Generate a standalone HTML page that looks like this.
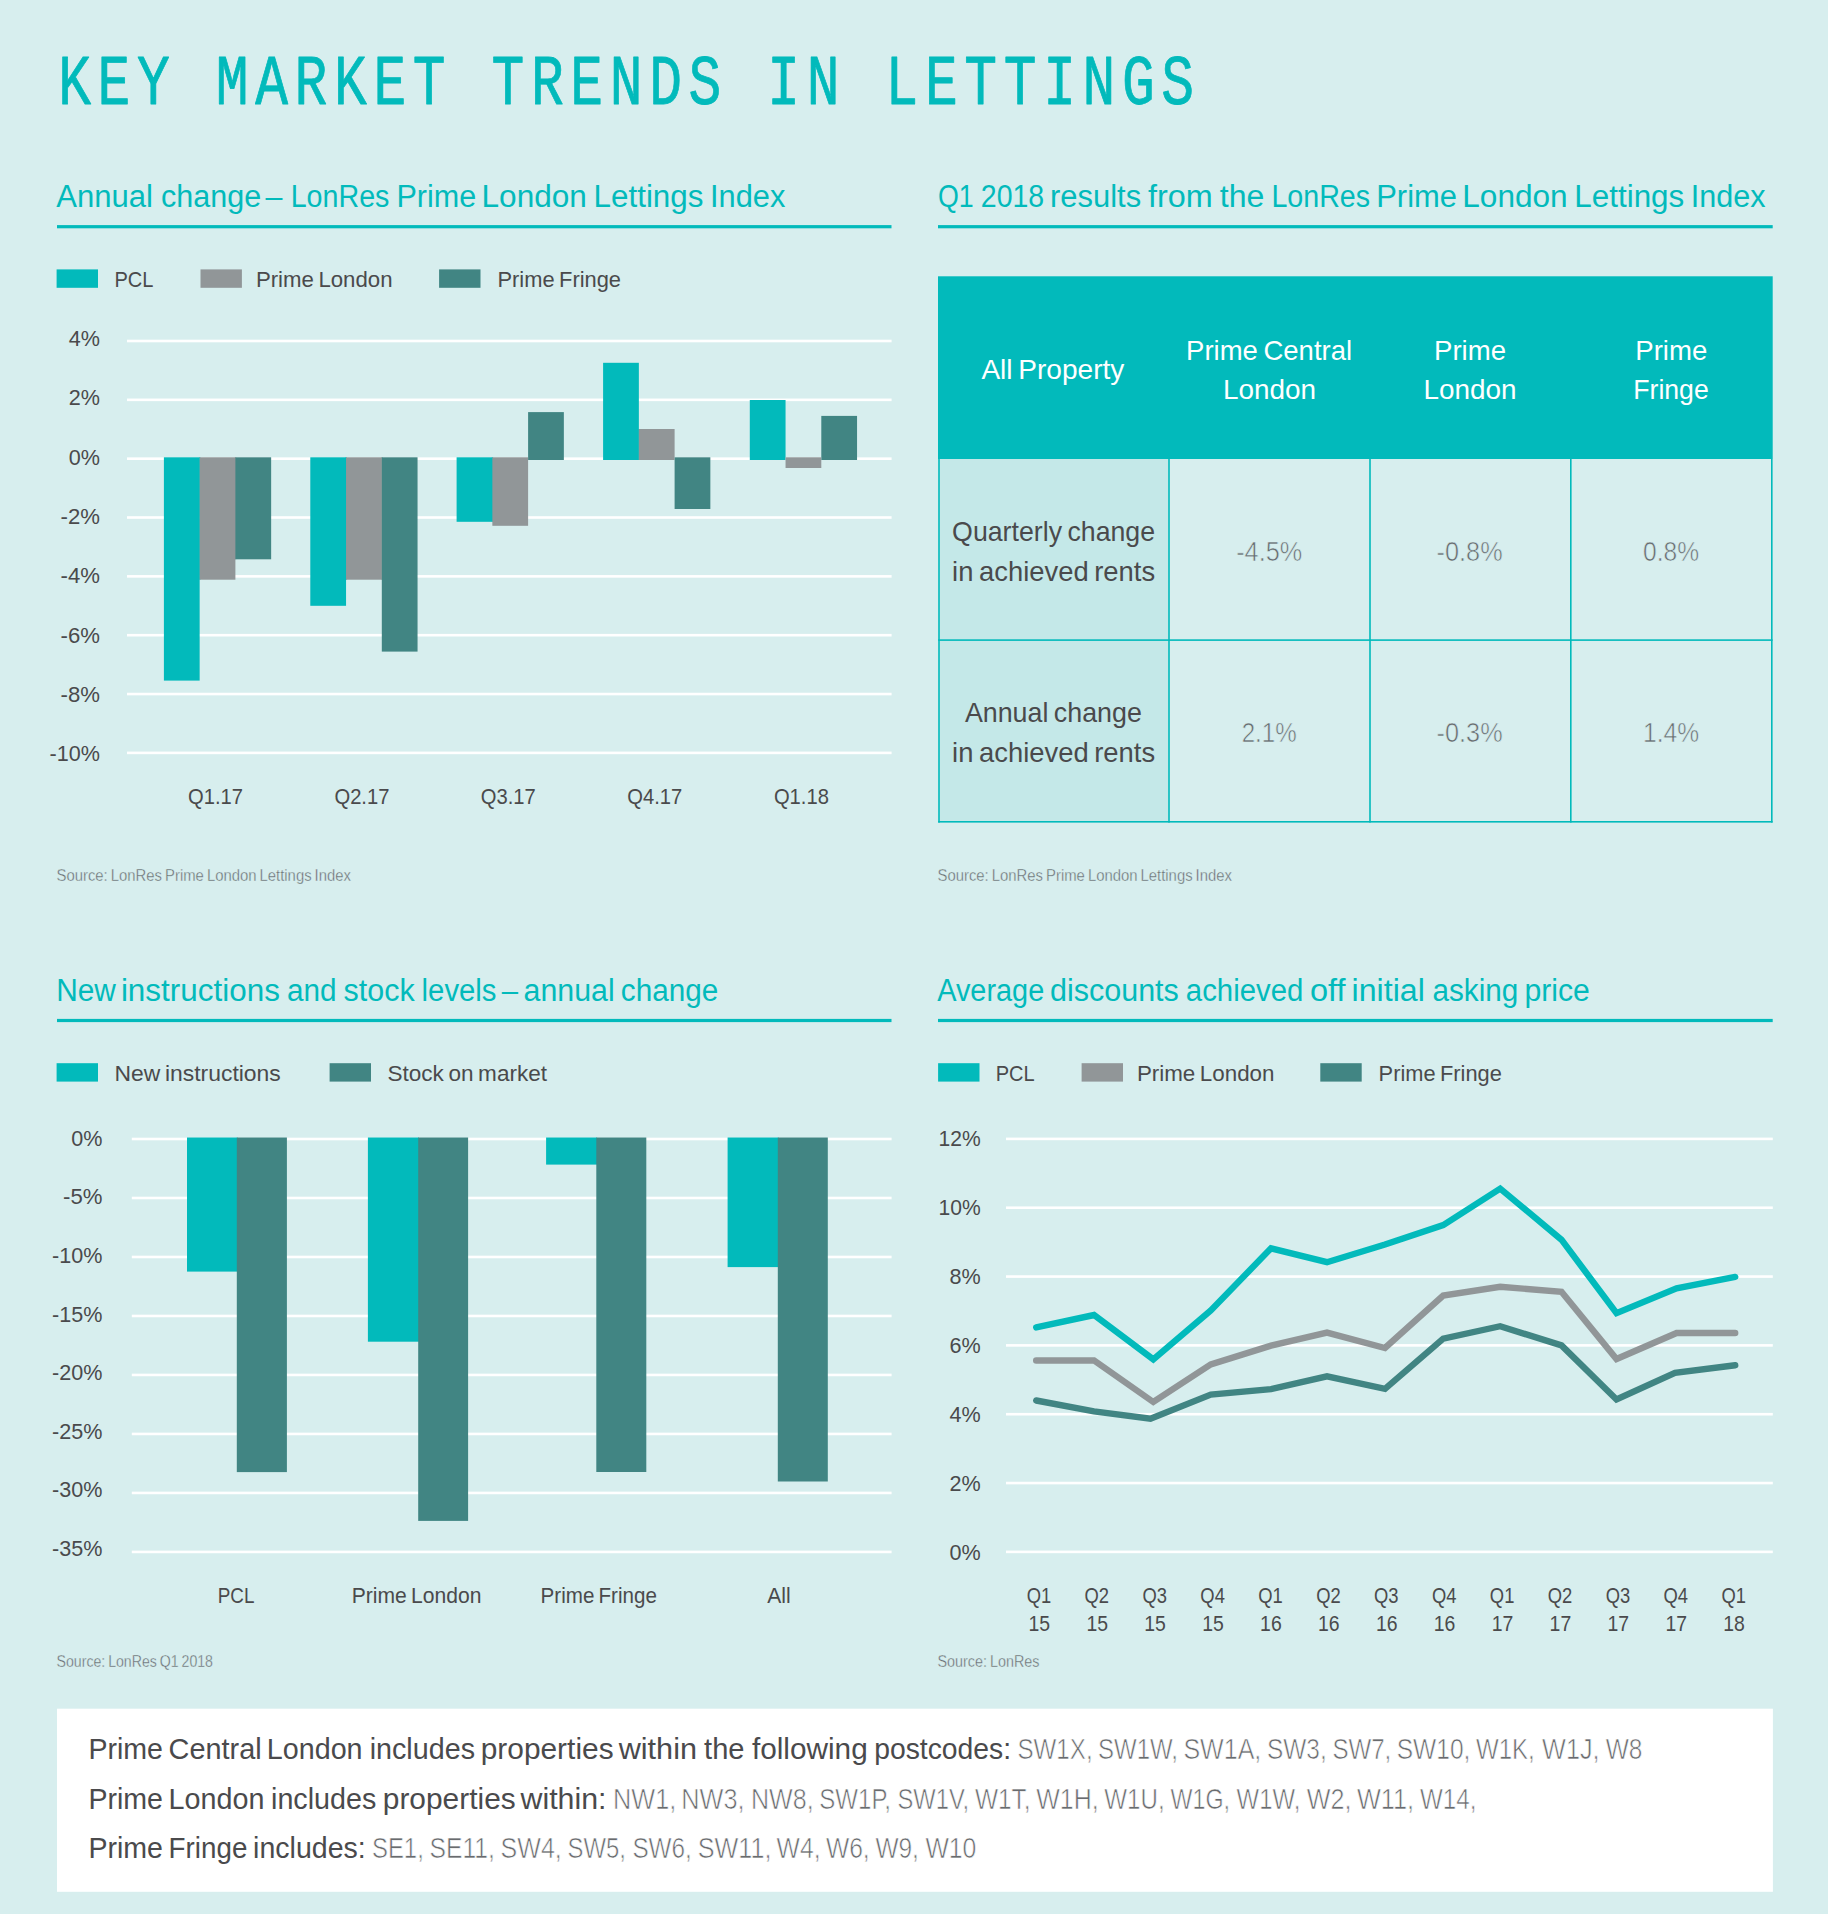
<!DOCTYPE html>
<html lang="en"><head><meta charset="utf-8"><title>Key market trends in lettings</title>
<style>
html,body{margin:0;padding:0;background:#d7eeee;}
body{width:1828px;height:1914px;overflow:hidden;}
svg{display:block;}
</style></head><body>
<svg width="1828" height="1914" viewBox="0 0 1828 1914">
<rect width="1828" height="1914" fill="#d7eeee"/>
<g id="title">
<text transform="translate(58.2,103.8) scale(0.7856,1)" font-family="Liberation Mono, DejaVu Sans Mono, monospace" font-size="69.5" letter-spacing="8.45" fill="#02babb" stroke="#02babb" stroke-width="0.8" stroke-linejoin="round">KEY MARKET TRENDS IN LETTINGS</text>
</g>
<g id="section-headings">
<text y="207.00" font-family="Liberation Sans, sans-serif" font-size="31.0" fill="#02babb"><tspan x="56.20" textLength="96.70" lengthAdjust="spacingAndGlyphs">Annual</tspan> <tspan x="161.10" textLength="100.00" lengthAdjust="spacingAndGlyphs">change</tspan> <tspan x="265.60" textLength="16.90" lengthAdjust="spacingAndGlyphs">–</tspan> <tspan x="290.70" textLength="98.70" lengthAdjust="spacingAndGlyphs">LonRes</tspan> <tspan x="396.40" textLength="79.80" lengthAdjust="spacingAndGlyphs">Prime</tspan> <tspan x="481.50" textLength="105.40" lengthAdjust="spacingAndGlyphs">London</tspan> <tspan x="593.50" textLength="110.00" lengthAdjust="spacingAndGlyphs">Lettings</tspan> <tspan x="710.00" textLength="75.30" lengthAdjust="spacingAndGlyphs">Index</tspan></text>
<rect x="57.00" y="225.10" width="834.50" height="3.20" fill="#02babb"/>
<text y="207.00" font-family="Liberation Sans, sans-serif" font-size="31.0" fill="#02babb"><tspan x="938.00" textLength="35.70" lengthAdjust="spacingAndGlyphs">Q1</tspan> <tspan x="980.80" textLength="63.40" lengthAdjust="spacingAndGlyphs">2018</tspan> <tspan x="1050.00" textLength="91.10" lengthAdjust="spacingAndGlyphs">results</tspan> <tspan x="1148.10" textLength="64.70" lengthAdjust="spacingAndGlyphs">from</tspan> <tspan x="1219.80" textLength="44.60" lengthAdjust="spacingAndGlyphs">the</tspan> <tspan x="1271.40" textLength="98.70" lengthAdjust="spacingAndGlyphs">LonRes</tspan> <tspan x="1376.20" textLength="80.80" lengthAdjust="spacingAndGlyphs">Prime</tspan> <tspan x="1462.30" textLength="105.40" lengthAdjust="spacingAndGlyphs">London</tspan> <tspan x="1574.30" textLength="110.00" lengthAdjust="spacingAndGlyphs">Lettings</tspan> <tspan x="1690.80" textLength="74.70" lengthAdjust="spacingAndGlyphs">Index</tspan></text>
<rect x="938.00" y="225.10" width="834.70" height="3.20" fill="#02babb"/>
<text y="1000.80" font-family="Liberation Sans, sans-serif" font-size="31.0" fill="#02babb"><tspan x="56.20" textLength="59.70" lengthAdjust="spacingAndGlyphs">New</tspan> <tspan x="120.90" textLength="159.00" lengthAdjust="spacingAndGlyphs">instructions</tspan> <tspan x="287.00" textLength="49.60" lengthAdjust="spacingAndGlyphs">and</tspan> <tspan x="343.60" textLength="71.00" lengthAdjust="spacingAndGlyphs">stock</tspan> <tspan x="421.60" textLength="74.90" lengthAdjust="spacingAndGlyphs">levels</tspan> <tspan x="501.80" textLength="16.30" lengthAdjust="spacingAndGlyphs">–</tspan> <tspan x="523.60" textLength="91.10" lengthAdjust="spacingAndGlyphs">annual</tspan> <tspan x="620.80" textLength="97.40" lengthAdjust="spacingAndGlyphs">change</tspan></text>
<rect x="57.00" y="1018.90" width="834.50" height="3.20" fill="#02babb"/>
<text y="1000.80" font-family="Liberation Sans, sans-serif" font-size="31.0" fill="#02babb"><tspan x="937.20" textLength="107.00" lengthAdjust="spacingAndGlyphs">Average</tspan> <tspan x="1050.00" textLength="128.80" lengthAdjust="spacingAndGlyphs">discounts</tspan> <tspan x="1185.80" textLength="117.60" lengthAdjust="spacingAndGlyphs">achieved</tspan> <tspan x="1310.00" textLength="35.60" lengthAdjust="spacingAndGlyphs">off</tspan> <tspan x="1351.60" textLength="73.30" lengthAdjust="spacingAndGlyphs">initial</tspan> <tspan x="1432.50" textLength="85.80" lengthAdjust="spacingAndGlyphs">asking</tspan> <tspan x="1524.40" textLength="65.40" lengthAdjust="spacingAndGlyphs">price</tspan></text>
<rect x="938.00" y="1018.90" width="834.70" height="3.20" fill="#02babb"/>
</g>
<g id="chart-annual-change">
<rect x="127.00" y="339.70" width="764.60" height="2.60" fill="#ffffff"/>
<rect x="127.00" y="398.54" width="764.60" height="2.60" fill="#ffffff"/>
<rect x="127.00" y="457.38" width="764.60" height="2.60" fill="#ffffff"/>
<rect x="127.00" y="516.22" width="764.60" height="2.60" fill="#ffffff"/>
<rect x="127.00" y="575.06" width="764.60" height="2.60" fill="#ffffff"/>
<rect x="127.00" y="633.90" width="764.60" height="2.60" fill="#ffffff"/>
<rect x="127.00" y="692.74" width="764.60" height="2.60" fill="#ffffff"/>
<rect x="127.00" y="751.58" width="764.60" height="2.60" fill="#ffffff"/>
<text x="68.80" y="346.10" font-family="Liberation Sans, sans-serif" font-size="22.4" fill="#4a4a4c" text-anchor="start" word-spacing="-1.68" textLength="31.20" lengthAdjust="spacingAndGlyphs">4%</text>
<text x="68.80" y="405.38" font-family="Liberation Sans, sans-serif" font-size="22.4" fill="#4a4a4c" text-anchor="start" word-spacing="-1.68" textLength="31.20" lengthAdjust="spacingAndGlyphs">2%</text>
<text x="68.80" y="464.66" font-family="Liberation Sans, sans-serif" font-size="22.4" fill="#4a4a4c" text-anchor="start" word-spacing="-1.68" textLength="31.20" lengthAdjust="spacingAndGlyphs">0%</text>
<text x="60.60" y="523.94" font-family="Liberation Sans, sans-serif" font-size="22.4" fill="#4a4a4c" text-anchor="start" word-spacing="-1.68" textLength="39.40" lengthAdjust="spacingAndGlyphs">-2%</text>
<text x="60.60" y="583.22" font-family="Liberation Sans, sans-serif" font-size="22.4" fill="#4a4a4c" text-anchor="start" word-spacing="-1.68" textLength="39.40" lengthAdjust="spacingAndGlyphs">-4%</text>
<text x="60.60" y="642.50" font-family="Liberation Sans, sans-serif" font-size="22.4" fill="#4a4a4c" text-anchor="start" word-spacing="-1.68" textLength="39.40" lengthAdjust="spacingAndGlyphs">-6%</text>
<text x="60.60" y="701.78" font-family="Liberation Sans, sans-serif" font-size="22.4" fill="#4a4a4c" text-anchor="start" word-spacing="-1.68" textLength="39.40" lengthAdjust="spacingAndGlyphs">-8%</text>
<text x="49.60" y="761.06" font-family="Liberation Sans, sans-serif" font-size="22.4" fill="#4a4a4c" text-anchor="start" word-spacing="-1.68" textLength="50.40" lengthAdjust="spacingAndGlyphs">-10%</text>
<rect x="56.60" y="269.40" width="41.40" height="18.40" fill="#02babb"/>
<text x="114.50" y="287.00" font-family="Liberation Sans, sans-serif" font-size="22.4" fill="#4a4a4c" text-anchor="start" word-spacing="-1.68" textLength="39.00" lengthAdjust="spacingAndGlyphs">PCL</text>
<rect x="200.50" y="269.40" width="41.40" height="18.40" fill="#919698"/>
<text x="255.90" y="287.00" font-family="Liberation Sans, sans-serif" font-size="22.4" fill="#4a4a4c" text-anchor="start" word-spacing="-1.68" textLength="136.60" lengthAdjust="spacingAndGlyphs">Prime London</text>
<rect x="439.10" y="269.40" width="41.40" height="18.40" fill="#418583"/>
<text x="497.50" y="287.00" font-family="Liberation Sans, sans-serif" font-size="22.4" fill="#4a4a4c" text-anchor="start" word-spacing="-1.68" textLength="123.50" lengthAdjust="spacingAndGlyphs">Prime Fringe</text>
<rect x="163.90" y="457.30" width="35.75" height="223.30" fill="#02babb"/>
<rect x="199.15" y="457.30" width="1.30" height="122.40" fill="#02babb"/>
<rect x="199.65" y="457.30" width="35.75" height="122.40" fill="#919698"/>
<rect x="234.90" y="457.30" width="1.30" height="102.00" fill="#919698"/>
<rect x="235.40" y="457.30" width="35.75" height="102.00" fill="#418583"/>
<rect x="310.30" y="457.30" width="35.75" height="148.50" fill="#02babb"/>
<rect x="345.55" y="457.30" width="1.30" height="122.40" fill="#02babb"/>
<rect x="346.05" y="457.30" width="35.75" height="122.40" fill="#919698"/>
<rect x="381.30" y="457.30" width="1.30" height="122.40" fill="#919698"/>
<rect x="381.80" y="457.30" width="35.75" height="194.30" fill="#418583"/>
<rect x="456.60" y="457.30" width="35.75" height="64.50" fill="#02babb"/>
<rect x="491.85" y="457.30" width="1.30" height="64.50" fill="#02babb"/>
<rect x="492.35" y="457.30" width="35.75" height="68.50" fill="#919698"/>
<rect x="528.10" y="412.10" width="35.75" height="47.90" fill="#418583"/>
<rect x="603.10" y="362.80" width="35.75" height="97.20" fill="#02babb"/>
<rect x="638.35" y="429.00" width="1.30" height="31.00" fill="#02babb"/>
<rect x="638.85" y="429.00" width="35.75" height="31.00" fill="#919698"/>
<rect x="674.60" y="457.30" width="35.75" height="51.70" fill="#418583"/>
<rect x="749.80" y="400.00" width="35.75" height="60.00" fill="#02babb"/>
<rect x="785.55" y="457.30" width="35.75" height="10.70" fill="#919698"/>
<rect x="821.30" y="415.90" width="35.75" height="44.10" fill="#418583"/>
<text x="188.03" y="803.90" font-family="Liberation Sans, sans-serif" font-size="22.4" fill="#4a4a4c" text-anchor="start" word-spacing="-1.68" textLength="55.00" lengthAdjust="spacingAndGlyphs">Q1.17</text>
<text x="334.43" y="803.90" font-family="Liberation Sans, sans-serif" font-size="22.4" fill="#4a4a4c" text-anchor="start" word-spacing="-1.68" textLength="55.00" lengthAdjust="spacingAndGlyphs">Q2.17</text>
<text x="480.73" y="803.90" font-family="Liberation Sans, sans-serif" font-size="22.4" fill="#4a4a4c" text-anchor="start" word-spacing="-1.68" textLength="55.00" lengthAdjust="spacingAndGlyphs">Q3.17</text>
<text x="627.23" y="803.90" font-family="Liberation Sans, sans-serif" font-size="22.4" fill="#4a4a4c" text-anchor="start" word-spacing="-1.68" textLength="55.00" lengthAdjust="spacingAndGlyphs">Q4.17</text>
<text x="773.92" y="803.90" font-family="Liberation Sans, sans-serif" font-size="22.4" fill="#4a4a4c" text-anchor="start" word-spacing="-1.68" textLength="55.00" lengthAdjust="spacingAndGlyphs">Q1.18</text>
<text x="56.50" y="881.40" font-family="Liberation Sans, sans-serif" font-size="16.9" fill="#696b6e" text-anchor="start" word-spacing="-1.27" textLength="294.50" lengthAdjust="spacingAndGlyphs" stroke="#d7eeee" stroke-width="0.37">Source: LonRes Prime London Lettings Index</text>
</g>
<g id="table-q1-2018-results">
<rect x="938.00" y="276.30" width="834.70" height="182.70" fill="#02babb"/>
<rect x="939.00" y="459.00" width="230.00" height="362.70" fill="#c4e8e8"/>
<rect x="938.20" y="459.00" width="1.60" height="363.60" fill="#02babb"/>
<rect x="1168.20" y="459.00" width="1.60" height="363.60" fill="#02babb"/>
<rect x="1369.20" y="459.00" width="1.60" height="363.60" fill="#02babb"/>
<rect x="1570.00" y="459.00" width="1.60" height="363.60" fill="#02babb"/>
<rect x="1771.00" y="459.00" width="1.60" height="363.60" fill="#02babb"/>
<rect x="938.20" y="639.30" width="834.40" height="1.60" fill="#02babb"/>
<rect x="938.20" y="821.00" width="834.40" height="1.60" fill="#02babb"/>
<text x="981.40" y="379.40" font-family="Liberation Sans, sans-serif" font-size="27.8" fill="#ffffff" text-anchor="start" word-spacing="-2.08" textLength="143.00" lengthAdjust="spacingAndGlyphs">All Property</text>
<text x="1186.10" y="360.00" font-family="Liberation Sans, sans-serif" font-size="27.8" fill="#ffffff" text-anchor="start" word-spacing="-2.08" textLength="166.00" lengthAdjust="spacingAndGlyphs">Prime Central</text>
<text x="1223.00" y="399.00" font-family="Liberation Sans, sans-serif" font-size="27.8" fill="#ffffff" text-anchor="start" word-spacing="-2.08" textLength="93.00" lengthAdjust="spacingAndGlyphs">London</text>
<text x="1434.00" y="360.00" font-family="Liberation Sans, sans-serif" font-size="27.8" fill="#ffffff" text-anchor="start" word-spacing="-2.08" textLength="72.00" lengthAdjust="spacingAndGlyphs">Prime</text>
<text x="1423.50" y="399.00" font-family="Liberation Sans, sans-serif" font-size="27.8" fill="#ffffff" text-anchor="start" word-spacing="-2.08" textLength="93.00" lengthAdjust="spacingAndGlyphs">London</text>
<text x="1635.30" y="360.00" font-family="Liberation Sans, sans-serif" font-size="27.8" fill="#ffffff" text-anchor="start" word-spacing="-2.08" textLength="72.00" lengthAdjust="spacingAndGlyphs">Prime</text>
<text x="1633.25" y="399.00" font-family="Liberation Sans, sans-serif" font-size="27.8" fill="#ffffff" text-anchor="start" word-spacing="-2.08" textLength="75.50" lengthAdjust="spacingAndGlyphs">Fringe</text>
<text x="952.10" y="540.70" font-family="Liberation Sans, sans-serif" font-size="27.8" fill="#4a4a4c" text-anchor="start" word-spacing="-2.08" textLength="203.00" lengthAdjust="spacingAndGlyphs">Quarterly change</text>
<text x="952.10" y="580.90" font-family="Liberation Sans, sans-serif" font-size="27.8" fill="#4a4a4c" text-anchor="start" word-spacing="-2.08" textLength="203.00" lengthAdjust="spacingAndGlyphs">in achieved rents</text>
<text x="964.90" y="722.30" font-family="Liberation Sans, sans-serif" font-size="27.8" fill="#4a4a4c" text-anchor="start" word-spacing="-2.08" textLength="177.00" lengthAdjust="spacingAndGlyphs">Annual change</text>
<text x="952.10" y="761.60" font-family="Liberation Sans, sans-serif" font-size="27.8" fill="#4a4a4c" text-anchor="start" word-spacing="-2.08" textLength="203.00" lengthAdjust="spacingAndGlyphs">in achieved rents</text>
<text x="1236.20" y="561.30" font-family="Liberation Sans, sans-serif" font-size="28.2" fill="#696b6e" text-anchor="start" word-spacing="-2.11" textLength="66.00" lengthAdjust="spacingAndGlyphs" stroke="#d7eeee" stroke-width="0.62">-4.5%</text>
<text x="1241.70" y="742.00" font-family="Liberation Sans, sans-serif" font-size="28.2" fill="#696b6e" text-anchor="start" word-spacing="-2.11" textLength="55.00" lengthAdjust="spacingAndGlyphs" stroke="#d7eeee" stroke-width="0.62">2.1%</text>
<text x="1436.60" y="561.30" font-family="Liberation Sans, sans-serif" font-size="28.2" fill="#696b6e" text-anchor="start" word-spacing="-2.11" textLength="66.00" lengthAdjust="spacingAndGlyphs" stroke="#d7eeee" stroke-width="0.62">-0.8%</text>
<text x="1436.60" y="742.00" font-family="Liberation Sans, sans-serif" font-size="28.2" fill="#696b6e" text-anchor="start" word-spacing="-2.11" textLength="66.00" lengthAdjust="spacingAndGlyphs" stroke="#d7eeee" stroke-width="0.62">-0.3%</text>
<text x="1643.00" y="561.30" font-family="Liberation Sans, sans-serif" font-size="28.2" fill="#696b6e" text-anchor="start" word-spacing="-2.11" textLength="56.00" lengthAdjust="spacingAndGlyphs" stroke="#d7eeee" stroke-width="0.62">0.8%</text>
<text x="1643.00" y="742.00" font-family="Liberation Sans, sans-serif" font-size="28.2" fill="#696b6e" text-anchor="start" word-spacing="-2.11" textLength="56.00" lengthAdjust="spacingAndGlyphs" stroke="#d7eeee" stroke-width="0.62">1.4%</text>
<text x="937.50" y="881.40" font-family="Liberation Sans, sans-serif" font-size="16.9" fill="#696b6e" text-anchor="start" word-spacing="-1.27" textLength="294.50" lengthAdjust="spacingAndGlyphs" stroke="#d7eeee" stroke-width="0.37">Source: LonRes Prime London Lettings Index</text>
</g>
<g id="chart-instructions-stock">
<rect x="131.80" y="1137.70" width="759.80" height="2.60" fill="#ffffff"/>
<rect x="131.80" y="1196.69" width="759.80" height="2.60" fill="#ffffff"/>
<rect x="131.80" y="1255.68" width="759.80" height="2.60" fill="#ffffff"/>
<rect x="131.80" y="1314.67" width="759.80" height="2.60" fill="#ffffff"/>
<rect x="131.80" y="1373.66" width="759.80" height="2.60" fill="#ffffff"/>
<rect x="131.80" y="1432.65" width="759.80" height="2.60" fill="#ffffff"/>
<rect x="131.80" y="1491.64" width="759.80" height="2.60" fill="#ffffff"/>
<rect x="131.80" y="1550.63" width="759.80" height="2.60" fill="#ffffff"/>
<text x="71.30" y="1145.90" font-family="Liberation Sans, sans-serif" font-size="22.4" fill="#4a4a4c" text-anchor="start" word-spacing="-1.68" textLength="31.20" lengthAdjust="spacingAndGlyphs">0%</text>
<text x="63.10" y="1204.47" font-family="Liberation Sans, sans-serif" font-size="22.4" fill="#4a4a4c" text-anchor="start" word-spacing="-1.68" textLength="39.40" lengthAdjust="spacingAndGlyphs">-5%</text>
<text x="52.10" y="1263.04" font-family="Liberation Sans, sans-serif" font-size="22.4" fill="#4a4a4c" text-anchor="start" word-spacing="-1.68" textLength="50.40" lengthAdjust="spacingAndGlyphs">-10%</text>
<text x="52.10" y="1321.61" font-family="Liberation Sans, sans-serif" font-size="22.4" fill="#4a4a4c" text-anchor="start" word-spacing="-1.68" textLength="50.40" lengthAdjust="spacingAndGlyphs">-15%</text>
<text x="52.10" y="1380.18" font-family="Liberation Sans, sans-serif" font-size="22.4" fill="#4a4a4c" text-anchor="start" word-spacing="-1.68" textLength="50.40" lengthAdjust="spacingAndGlyphs">-20%</text>
<text x="52.10" y="1438.75" font-family="Liberation Sans, sans-serif" font-size="22.4" fill="#4a4a4c" text-anchor="start" word-spacing="-1.68" textLength="50.40" lengthAdjust="spacingAndGlyphs">-25%</text>
<text x="52.10" y="1497.32" font-family="Liberation Sans, sans-serif" font-size="22.4" fill="#4a4a4c" text-anchor="start" word-spacing="-1.68" textLength="50.40" lengthAdjust="spacingAndGlyphs">-30%</text>
<text x="52.10" y="1555.89" font-family="Liberation Sans, sans-serif" font-size="22.4" fill="#4a4a4c" text-anchor="start" word-spacing="-1.68" textLength="50.40" lengthAdjust="spacingAndGlyphs">-35%</text>
<rect x="56.60" y="1063.20" width="41.40" height="18.40" fill="#02babb"/>
<text x="114.50" y="1080.80" font-family="Liberation Sans, sans-serif" font-size="22.4" fill="#4a4a4c" text-anchor="start" word-spacing="-1.68" textLength="166.30" lengthAdjust="spacingAndGlyphs">New instructions</text>
<rect x="329.60" y="1063.20" width="41.40" height="18.40" fill="#418583"/>
<text x="387.50" y="1080.80" font-family="Liberation Sans, sans-serif" font-size="22.4" fill="#4a4a4c" text-anchor="start" word-spacing="-1.68" textLength="159.50" lengthAdjust="spacingAndGlyphs">Stock on market</text>
<rect x="187.00" y="1137.50" width="50.60" height="134.10" fill="#02babb"/>
<rect x="236.80" y="1137.50" width="50.10" height="334.60" fill="#418583"/>
<rect x="367.90" y="1137.50" width="51.10" height="204.20" fill="#02babb"/>
<rect x="418.20" y="1137.50" width="49.90" height="383.40" fill="#418583"/>
<rect x="546.10" y="1137.50" width="51.00" height="27.10" fill="#02babb"/>
<rect x="596.30" y="1137.50" width="50.00" height="334.50" fill="#418583"/>
<rect x="727.60" y="1137.50" width="51.00" height="129.60" fill="#02babb"/>
<rect x="777.80" y="1137.50" width="50.00" height="344.00" fill="#418583"/>
<text x="217.70" y="1603.20" font-family="Liberation Sans, sans-serif" font-size="22.4" fill="#4a4a4c" text-anchor="start" word-spacing="-1.68" textLength="36.70" lengthAdjust="spacingAndGlyphs">PCL</text>
<text x="351.80" y="1603.20" font-family="Liberation Sans, sans-serif" font-size="22.4" fill="#4a4a4c" text-anchor="start" word-spacing="-1.68" textLength="129.60" lengthAdjust="spacingAndGlyphs">Prime London</text>
<text x="540.60" y="1603.20" font-family="Liberation Sans, sans-serif" font-size="22.4" fill="#4a4a4c" text-anchor="start" word-spacing="-1.68" textLength="116.30" lengthAdjust="spacingAndGlyphs">Prime Fringe</text>
<text x="767.20" y="1603.20" font-family="Liberation Sans, sans-serif" font-size="22.4" fill="#4a4a4c" text-anchor="start" word-spacing="-1.68" textLength="23.40" lengthAdjust="spacingAndGlyphs">All</text>
<text x="56.50" y="1667.30" font-family="Liberation Sans, sans-serif" font-size="16.9" fill="#696b6e" text-anchor="start" word-spacing="-1.27" textLength="156.50" lengthAdjust="spacingAndGlyphs" stroke="#d7eeee" stroke-width="0.37">Source: LonRes Q1 2018</text>
</g>
<g id="chart-average-discounts">
<rect x="1006.00" y="1137.60" width="766.80" height="2.60" fill="#ffffff"/>
<rect x="1006.00" y="1206.43" width="766.80" height="2.60" fill="#ffffff"/>
<rect x="1006.00" y="1275.26" width="766.80" height="2.60" fill="#ffffff"/>
<rect x="1006.00" y="1344.09" width="766.80" height="2.60" fill="#ffffff"/>
<rect x="1006.00" y="1412.92" width="766.80" height="2.60" fill="#ffffff"/>
<rect x="1006.00" y="1481.75" width="766.80" height="2.60" fill="#ffffff"/>
<rect x="1006.00" y="1550.58" width="766.80" height="2.60" fill="#ffffff"/>
<text x="938.50" y="1145.70" font-family="Liberation Sans, sans-serif" font-size="22.4" fill="#4a4a4c" text-anchor="start" word-spacing="-1.68" textLength="42.20" lengthAdjust="spacingAndGlyphs">12%</text>
<text x="938.50" y="1214.80" font-family="Liberation Sans, sans-serif" font-size="22.4" fill="#4a4a4c" text-anchor="start" word-spacing="-1.68" textLength="42.20" lengthAdjust="spacingAndGlyphs">10%</text>
<text x="949.50" y="1283.90" font-family="Liberation Sans, sans-serif" font-size="22.4" fill="#4a4a4c" text-anchor="start" word-spacing="-1.68" textLength="31.20" lengthAdjust="spacingAndGlyphs">8%</text>
<text x="949.50" y="1353.00" font-family="Liberation Sans, sans-serif" font-size="22.4" fill="#4a4a4c" text-anchor="start" word-spacing="-1.68" textLength="31.20" lengthAdjust="spacingAndGlyphs">6%</text>
<text x="949.50" y="1422.10" font-family="Liberation Sans, sans-serif" font-size="22.4" fill="#4a4a4c" text-anchor="start" word-spacing="-1.68" textLength="31.20" lengthAdjust="spacingAndGlyphs">4%</text>
<text x="949.50" y="1491.20" font-family="Liberation Sans, sans-serif" font-size="22.4" fill="#4a4a4c" text-anchor="start" word-spacing="-1.68" textLength="31.20" lengthAdjust="spacingAndGlyphs">2%</text>
<text x="949.50" y="1560.30" font-family="Liberation Sans, sans-serif" font-size="22.4" fill="#4a4a4c" text-anchor="start" word-spacing="-1.68" textLength="31.20" lengthAdjust="spacingAndGlyphs">0%</text>
<rect x="938.10" y="1063.20" width="41.40" height="18.40" fill="#02babb"/>
<text x="995.70" y="1080.80" font-family="Liberation Sans, sans-serif" font-size="22.4" fill="#4a4a4c" text-anchor="start" word-spacing="-1.68" textLength="39.00" lengthAdjust="spacingAndGlyphs">PCL</text>
<rect x="1081.60" y="1063.20" width="41.40" height="18.40" fill="#919698"/>
<text x="1136.90" y="1080.80" font-family="Liberation Sans, sans-serif" font-size="22.4" fill="#4a4a4c" text-anchor="start" word-spacing="-1.68" textLength="137.60" lengthAdjust="spacingAndGlyphs">Prime London</text>
<rect x="1320.30" y="1063.20" width="41.40" height="18.40" fill="#418583"/>
<text x="1378.60" y="1080.80" font-family="Liberation Sans, sans-serif" font-size="22.4" fill="#4a4a4c" text-anchor="start" word-spacing="-1.68" textLength="123.30" lengthAdjust="spacingAndGlyphs">Prime Fringe</text>
<polyline points="1036.2,1400.5 1094.0,1411.3 1150.5,1418.6 1210.8,1394.6 1271.0,1389.2 1327.0,1376.3 1385.0,1388.8 1443.2,1338.6 1500.2,1326.2 1561.5,1345.4 1616.5,1399.5 1675.0,1372.8 1735.2,1365.3" fill="none" stroke="#418583" stroke-width="6.4" stroke-linejoin="miter" stroke-miterlimit="10" stroke-linecap="round"/>
<polyline points="1036.2,1360.5 1094.0,1360.5 1153.3,1402.0 1210.8,1364.4 1271.0,1345.6 1327.0,1332.6 1385.0,1348.0 1443.2,1295.5 1500.2,1286.8 1561.5,1291.8 1616.5,1359.0 1676.6,1333.0 1735.2,1333.0" fill="none" stroke="#919698" stroke-width="6.4" stroke-linejoin="miter" stroke-miterlimit="10" stroke-linecap="round"/>
<polyline points="1036.2,1327.4 1094.0,1315.0 1153.3,1359.4 1210.8,1310.5 1271.0,1248.3 1327.0,1262.2 1385.0,1244.5 1443.2,1225.1 1500.2,1188.6 1561.5,1239.7 1616.5,1313.2 1676.6,1288.3 1735.2,1276.9" fill="none" stroke="#02babb" stroke-width="6.4" stroke-linejoin="miter" stroke-miterlimit="10" stroke-linecap="round"/>
<text x="1026.65" y="1603.20" font-family="Liberation Sans, sans-serif" font-size="22.4" fill="#4a4a4c" text-anchor="start" word-spacing="-1.68" textLength="24.50" lengthAdjust="spacingAndGlyphs">Q1</text>
<text x="1028.50" y="1630.90" font-family="Liberation Sans, sans-serif" font-size="22.4" fill="#4a4a4c" text-anchor="start" word-spacing="-1.68" textLength="21.60" lengthAdjust="spacingAndGlyphs">15</text>
<text x="1084.55" y="1603.20" font-family="Liberation Sans, sans-serif" font-size="22.4" fill="#4a4a4c" text-anchor="start" word-spacing="-1.68" textLength="24.50" lengthAdjust="spacingAndGlyphs">Q2</text>
<text x="1086.40" y="1630.90" font-family="Liberation Sans, sans-serif" font-size="22.4" fill="#4a4a4c" text-anchor="start" word-spacing="-1.68" textLength="21.60" lengthAdjust="spacingAndGlyphs">15</text>
<text x="1142.45" y="1603.20" font-family="Liberation Sans, sans-serif" font-size="22.4" fill="#4a4a4c" text-anchor="start" word-spacing="-1.68" textLength="24.50" lengthAdjust="spacingAndGlyphs">Q3</text>
<text x="1144.30" y="1630.90" font-family="Liberation Sans, sans-serif" font-size="22.4" fill="#4a4a4c" text-anchor="start" word-spacing="-1.68" textLength="21.60" lengthAdjust="spacingAndGlyphs">15</text>
<text x="1200.35" y="1603.20" font-family="Liberation Sans, sans-serif" font-size="22.4" fill="#4a4a4c" text-anchor="start" word-spacing="-1.68" textLength="24.50" lengthAdjust="spacingAndGlyphs">Q4</text>
<text x="1202.20" y="1630.90" font-family="Liberation Sans, sans-serif" font-size="22.4" fill="#4a4a4c" text-anchor="start" word-spacing="-1.68" textLength="21.60" lengthAdjust="spacingAndGlyphs">15</text>
<text x="1258.25" y="1603.20" font-family="Liberation Sans, sans-serif" font-size="22.4" fill="#4a4a4c" text-anchor="start" word-spacing="-1.68" textLength="24.50" lengthAdjust="spacingAndGlyphs">Q1</text>
<text x="1260.10" y="1630.90" font-family="Liberation Sans, sans-serif" font-size="22.4" fill="#4a4a4c" text-anchor="start" word-spacing="-1.68" textLength="21.60" lengthAdjust="spacingAndGlyphs">16</text>
<text x="1316.15" y="1603.20" font-family="Liberation Sans, sans-serif" font-size="22.4" fill="#4a4a4c" text-anchor="start" word-spacing="-1.68" textLength="24.50" lengthAdjust="spacingAndGlyphs">Q2</text>
<text x="1318.00" y="1630.90" font-family="Liberation Sans, sans-serif" font-size="22.4" fill="#4a4a4c" text-anchor="start" word-spacing="-1.68" textLength="21.60" lengthAdjust="spacingAndGlyphs">16</text>
<text x="1374.05" y="1603.20" font-family="Liberation Sans, sans-serif" font-size="22.4" fill="#4a4a4c" text-anchor="start" word-spacing="-1.68" textLength="24.50" lengthAdjust="spacingAndGlyphs">Q3</text>
<text x="1375.90" y="1630.90" font-family="Liberation Sans, sans-serif" font-size="22.4" fill="#4a4a4c" text-anchor="start" word-spacing="-1.68" textLength="21.60" lengthAdjust="spacingAndGlyphs">16</text>
<text x="1431.95" y="1603.20" font-family="Liberation Sans, sans-serif" font-size="22.4" fill="#4a4a4c" text-anchor="start" word-spacing="-1.68" textLength="24.50" lengthAdjust="spacingAndGlyphs">Q4</text>
<text x="1433.80" y="1630.90" font-family="Liberation Sans, sans-serif" font-size="22.4" fill="#4a4a4c" text-anchor="start" word-spacing="-1.68" textLength="21.60" lengthAdjust="spacingAndGlyphs">16</text>
<text x="1489.85" y="1603.20" font-family="Liberation Sans, sans-serif" font-size="22.4" fill="#4a4a4c" text-anchor="start" word-spacing="-1.68" textLength="24.50" lengthAdjust="spacingAndGlyphs">Q1</text>
<text x="1491.70" y="1630.90" font-family="Liberation Sans, sans-serif" font-size="22.4" fill="#4a4a4c" text-anchor="start" word-spacing="-1.68" textLength="21.60" lengthAdjust="spacingAndGlyphs">17</text>
<text x="1547.75" y="1603.20" font-family="Liberation Sans, sans-serif" font-size="22.4" fill="#4a4a4c" text-anchor="start" word-spacing="-1.68" textLength="24.50" lengthAdjust="spacingAndGlyphs">Q2</text>
<text x="1549.60" y="1630.90" font-family="Liberation Sans, sans-serif" font-size="22.4" fill="#4a4a4c" text-anchor="start" word-spacing="-1.68" textLength="21.60" lengthAdjust="spacingAndGlyphs">17</text>
<text x="1605.65" y="1603.20" font-family="Liberation Sans, sans-serif" font-size="22.4" fill="#4a4a4c" text-anchor="start" word-spacing="-1.68" textLength="24.50" lengthAdjust="spacingAndGlyphs">Q3</text>
<text x="1607.50" y="1630.90" font-family="Liberation Sans, sans-serif" font-size="22.4" fill="#4a4a4c" text-anchor="start" word-spacing="-1.68" textLength="21.60" lengthAdjust="spacingAndGlyphs">17</text>
<text x="1663.55" y="1603.20" font-family="Liberation Sans, sans-serif" font-size="22.4" fill="#4a4a4c" text-anchor="start" word-spacing="-1.68" textLength="24.50" lengthAdjust="spacingAndGlyphs">Q4</text>
<text x="1665.40" y="1630.90" font-family="Liberation Sans, sans-serif" font-size="22.4" fill="#4a4a4c" text-anchor="start" word-spacing="-1.68" textLength="21.60" lengthAdjust="spacingAndGlyphs">17</text>
<text x="1721.45" y="1603.20" font-family="Liberation Sans, sans-serif" font-size="22.4" fill="#4a4a4c" text-anchor="start" word-spacing="-1.68" textLength="24.50" lengthAdjust="spacingAndGlyphs">Q1</text>
<text x="1723.30" y="1630.90" font-family="Liberation Sans, sans-serif" font-size="22.4" fill="#4a4a4c" text-anchor="start" word-spacing="-1.68" textLength="21.60" lengthAdjust="spacingAndGlyphs">18</text>
<text x="937.50" y="1666.90" font-family="Liberation Sans, sans-serif" font-size="16.9" fill="#696b6e" text-anchor="start" word-spacing="-1.27" textLength="102.00" lengthAdjust="spacingAndGlyphs" stroke="#d7eeee" stroke-width="0.37">Source: LonRes</text>
</g>
<g id="postcode-definitions">
<rect x="57.00" y="1708.70" width="1715.90" height="183.10" fill="#ffffff"/>
<text y="1758.90" font-family="Liberation Sans, sans-serif" font-size="28.6" fill="#4a4a4c"><tspan x="88.40" textLength="74.50" lengthAdjust="spacingAndGlyphs">Prime</tspan> <tspan x="168.60" textLength="93.10" lengthAdjust="spacingAndGlyphs">Central</tspan> <tspan x="266.80" textLength="95.80" lengthAdjust="spacingAndGlyphs">London</tspan> <tspan x="369.70" textLength="105.30" lengthAdjust="spacingAndGlyphs">includes</tspan> <tspan x="480.70" textLength="132.90" lengthAdjust="spacingAndGlyphs">properties</tspan> <tspan x="618.70" textLength="78.30" lengthAdjust="spacingAndGlyphs">within</tspan> <tspan x="704.10" textLength="40.40" lengthAdjust="spacingAndGlyphs">the</tspan> <tspan x="751.90" textLength="115.80" lengthAdjust="spacingAndGlyphs">following</tspan> <tspan x="874.20" textLength="136.90" lengthAdjust="spacingAndGlyphs">postcodes:</tspan></text>
<text y="1758.90" font-family="Liberation Sans, sans-serif" font-size="28.6" fill="#696b6e" stroke="#ffffff" stroke-width="0.63"><tspan x="1017.50" textLength="75.10" lengthAdjust="spacingAndGlyphs">SW1X,</tspan> <tspan x="1098.00" textLength="80.00" lengthAdjust="spacingAndGlyphs">SW1W,</tspan> <tspan x="1183.40" textLength="77.90" lengthAdjust="spacingAndGlyphs">SW1A,</tspan> <tspan x="1267.00" textLength="59.70" lengthAdjust="spacingAndGlyphs">SW3,</tspan> <tspan x="1332.40" textLength="58.90" lengthAdjust="spacingAndGlyphs">SW7,</tspan> <tspan x="1396.70" textLength="73.70" lengthAdjust="spacingAndGlyphs">SW10,</tspan> <tspan x="1476.00" textLength="58.80" lengthAdjust="spacingAndGlyphs">W1K,</tspan> <tspan x="1542.10" textLength="57.50" lengthAdjust="spacingAndGlyphs">W1J,</tspan> <tspan x="1605.70" textLength="36.70" lengthAdjust="spacingAndGlyphs">W8</tspan></text>
<text y="1809.10" font-family="Liberation Sans, sans-serif" font-size="28.6" fill="#4a4a4c"><tspan x="88.40" textLength="74.50" lengthAdjust="spacingAndGlyphs">Prime</tspan> <tspan x="168.60" textLength="95.90" lengthAdjust="spacingAndGlyphs">London</tspan> <tspan x="271.00" textLength="105.30" lengthAdjust="spacingAndGlyphs">includes</tspan> <tspan x="382.80" textLength="132.90" lengthAdjust="spacingAndGlyphs">properties</tspan> <tspan x="520.50" textLength="86.00" lengthAdjust="spacingAndGlyphs">within:</tspan></text>
<text y="1809.10" font-family="Liberation Sans, sans-serif" font-size="28.6" fill="#696b6e" stroke="#ffffff" stroke-width="0.63"><tspan x="613.10" textLength="63.10" lengthAdjust="spacingAndGlyphs">NW1,</tspan> <tspan x="681.30" textLength="63.20" lengthAdjust="spacingAndGlyphs">NW3,</tspan> <tspan x="751.00" textLength="62.60" lengthAdjust="spacingAndGlyphs">NW8,</tspan> <tspan x="819.30" textLength="71.70" lengthAdjust="spacingAndGlyphs">SW1P,</tspan> <tspan x="897.50" textLength="71.70" lengthAdjust="spacingAndGlyphs">SW1V,</tspan> <tspan x="974.90" textLength="55.70" lengthAdjust="spacingAndGlyphs">W1T,</tspan> <tspan x="1036.20" textLength="62.40" lengthAdjust="spacingAndGlyphs">W1H,</tspan> <tspan x="1104.30" textLength="60.30" lengthAdjust="spacingAndGlyphs">W1U,</tspan> <tspan x="1170.50" textLength="59.50" lengthAdjust="spacingAndGlyphs">W1G,</tspan> <tspan x="1236.60" textLength="63.70" lengthAdjust="spacingAndGlyphs">W1W,</tspan> <tspan x="1306.80" textLength="44.70" lengthAdjust="spacingAndGlyphs">W2,</tspan> <tspan x="1356.90" textLength="57.20" lengthAdjust="spacingAndGlyphs">W11,</tspan> <tspan x="1420.00" textLength="56.40" lengthAdjust="spacingAndGlyphs">W14,</tspan></text>
<text y="1857.90" font-family="Liberation Sans, sans-serif" font-size="28.6" fill="#4a4a4c"><tspan x="88.40" textLength="74.50" lengthAdjust="spacingAndGlyphs">Prime</tspan> <tspan x="168.60" textLength="78.80" lengthAdjust="spacingAndGlyphs">Fringe</tspan> <tspan x="253.10" textLength="112.60" lengthAdjust="spacingAndGlyphs">includes:</tspan></text>
<text y="1857.90" font-family="Liberation Sans, sans-serif" font-size="28.6" fill="#696b6e" stroke="#ffffff" stroke-width="0.63"><tspan x="372.00" textLength="51.80" lengthAdjust="spacingAndGlyphs">SE1,</tspan> <tspan x="429.50" textLength="65.40" lengthAdjust="spacingAndGlyphs">SE11,</tspan> <tspan x="500.60" textLength="61.20" lengthAdjust="spacingAndGlyphs">SW4,</tspan> <tspan x="567.50" textLength="58.40" lengthAdjust="spacingAndGlyphs">SW5,</tspan> <tspan x="632.40" textLength="59.50" lengthAdjust="spacingAndGlyphs">SW6,</tspan> <tspan x="697.80" textLength="73.70" lengthAdjust="spacingAndGlyphs">SW11,</tspan> <tspan x="776.60" textLength="43.90" lengthAdjust="spacingAndGlyphs">W4,</tspan> <tspan x="825.90" textLength="43.80" lengthAdjust="spacingAndGlyphs">W6,</tspan> <tspan x="875.40" textLength="43.50" lengthAdjust="spacingAndGlyphs">W9,</tspan> <tspan x="925.40" textLength="51.00" lengthAdjust="spacingAndGlyphs">W10</tspan></text>
</g>
</svg>
</body></html>
